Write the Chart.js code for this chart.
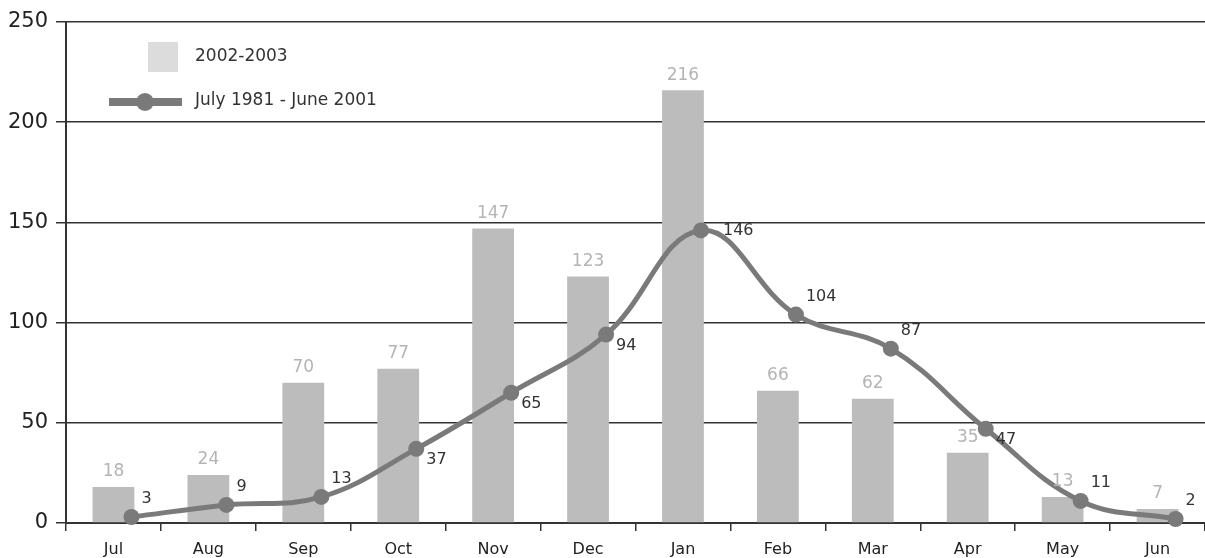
<!DOCTYPE html>
<html>
<head>
<meta charset="utf-8">
<script src="https://cdn.jsdelivr.net/npm/chart.js@4"></script>
<style>
  html, body { margin: 0; padding: 0; background: #fff; }
  #wrap { width: 1205px; height: 558px; }
</style>
</head>
<body>
<div id="wrap"><canvas id="rainChart" width="1205" height="558"></canvas></div>
<script>
// ---------- data ----------
const months = ['Jul', 'Aug', 'Sep', 'Oct', 'Nov', 'Dec', 'Jan', 'Feb', 'Mar', 'Apr', 'May', 'Jun'];
const season2002 = [18, 24, 70, 77, 147, 123, 216, 66, 62, 35, 13, 7];
const average1981 = [3, 9, 13, 37, 65, 94, 146, 104, 87, 47, 11, 2];
const yTicks = [0, 50, 100, 150, 200, 250];
const seriesNames = ['2002-2003', 'July 1981 - June 2001'];

const FONT = '"DejaVu Sans", "Noto Sans", sans-serif';
const BAR_COLOR = '#bcbcbc';
const LINE_COLOR = '#7a7a7a';
const AXIS_COLOR = '#333';

// where the line labels sit relative to their point
const lineLabelPlace = ['up', 'up', 'up', 'down', 'down', 'down', 'mid', 'up', 'up', 'down', 'up', 'up'];

// value labels above bars and beside line points
const valueLabels = {
    id: 'valueLabels',
    afterDatasetsDraw(chart) {
        const ctx = chart.ctx;
        ctx.save();
        ctx.textBaseline = 'middle';

        ctx.font = '17px ' + FONT;
        ctx.fillStyle = '#b4b4b4';
        ctx.textAlign = 'center';
        chart.getDatasetMeta(0).data.forEach((bar, i) => {
            ctx.fillText(season2002[i], bar.x, bar.y - 15);
        });

        ctx.font = '16px ' + FONT;
        ctx.fillStyle = '#333';
        ctx.textAlign = 'left';
        chart.getDatasetMeta(1).data.forEach((pt, i) => {
            let dx = 10, dy = -18;
            if (lineLabelPlace[i] === 'down') dy = 11;
            if (lineLabelPlace[i] === 'mid') { dx = 22; dy = 0; }
            ctx.fillText(average1981[i], pt.x + dx, pt.y + dy);
        });
        ctx.restore();
    }
};

// legend box in the upper left of the plot
const insideLegend = {
    id: 'insideLegend',
    afterDraw(chart) {
        const ctx = chart.ctx;
        ctx.save();
        ctx.fillStyle = '#dcdcdc';
        ctx.fillRect(148, 42, 30, 30);

        ctx.strokeStyle = LINE_COLOR;
        ctx.lineWidth = 8;
        ctx.beginPath();
        ctx.moveTo(109, 102);
        ctx.lineTo(182, 102);
        ctx.stroke();
        ctx.fillStyle = LINE_COLOR;
        ctx.beginPath();
        ctx.arc(145, 102, 9, 0, Math.PI * 2);
        ctx.fill();

        ctx.font = '17px ' + FONT;
        ctx.fillStyle = '#333';
        ctx.textBaseline = 'middle';
        ctx.textAlign = 'left';
        ctx.fillText(seriesNames[0], 195, 57);
        ctx.fillText(seriesNames[1], 195, 101);
        ctx.restore();
    }
};

const ctx = document.getElementById('rainChart').getContext('2d');
new Chart(ctx, {
    type: 'bar',
    data: {
        labels: months,
        datasets: [{
            label: seriesNames[0],
            data: season2002,
            backgroundColor: BAR_COLOR,
            categoryPercentage: 1,
            barPercentage: 0.44,
            grouped: false,
            order: 2
        }, {
            type: 'line',
            label: seriesNames[1],
            xAxisID: 'xLine',
            data: average1981.map((v, i) => ({ x: i + 0.19, y: v })),
            borderColor: LINE_COLOR,
            borderWidth: 5,
            backgroundColor: LINE_COLOR,
            pointRadius: 8,
            pointBorderWidth: 0,
            tension: 0.4,
            clip: 10,
            order: 1
        }]
    },
    options: {
        responsive: false,
        devicePixelRatio: 1,
        animation: false,
        layout: { autoPadding: false, padding: { top: 22, right: 0, left: 0, bottom: 0 } },
        plugins: { legend: { display: false }, tooltip: { enabled: false } },
        scales: {
            x: {
                afterFit: axis => {
                    axis.height = 35;
                    axis.paddingLeft = 0;
                    axis.paddingRight = 0;
                },
                grid: { drawOnChartArea: false, color: AXIS_COLOR, lineWidth: 1.5, tickLength: 8 },
                border: { color: AXIS_COLOR, width: 2 },
                ticks: { color: '#222', font: { family: FONT, size: 16 }, padding: 9 }
            },
            xLine: {
                type: 'linear',
                display: false,
                offset: false,
                min: -0.5,
                max: 11.5
            },
            y: {
                min: yTicks[0],
                max: yTicks[yTicks.length - 1],
                afterBuildTicks: axis => { axis.ticks = yTicks.map(v => ({ value: v })); },
                afterFit: axis => { axis.width = 66; },
                grid: { color: AXIS_COLOR, lineWidth: 1.5, tickLength: 10 },
                border: { color: AXIS_COLOR, width: 2 },
                ticks: { color: '#222', font: { family: FONT, size: 21 }, padding: 8 }
            }
        }
    },
    plugins: [valueLabels, insideLegend]
});
</script>
</body>
</html>
